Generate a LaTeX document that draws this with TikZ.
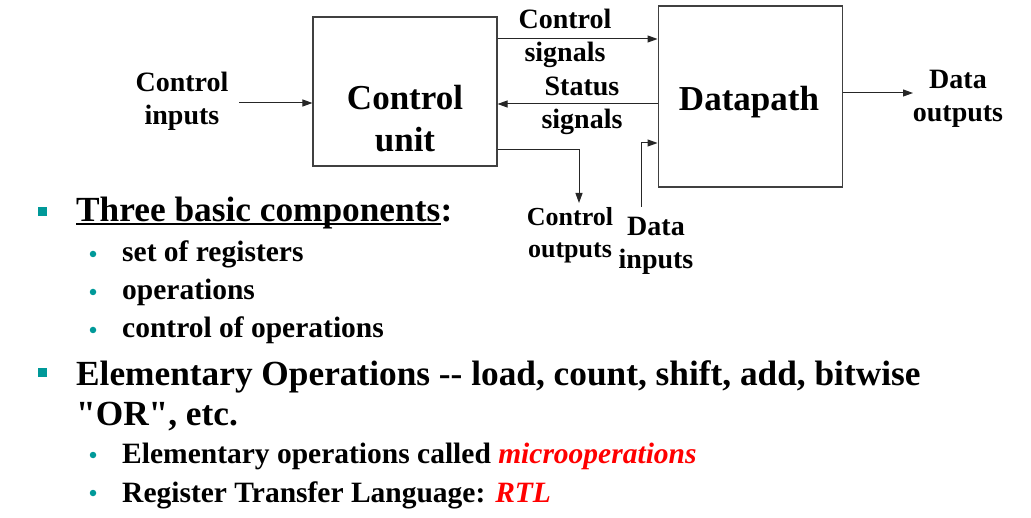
\documentclass[tikz,border=0pt]{standalone}
\usepackage{fontspec}
\setmainfont{Liberation Serif}[Ligatures=TeXOff]
\usetikzlibrary{positioning,arrows.meta}
\definecolor{bullteal}{RGB}{0,153,153}

\begin{document}
\begin{tikzpicture}[x=1pt, y=-1pt,
  blk/.style={draw=black!75, line width=1.1pt, minimum width=184pt, inner sep=0pt},
  big/.style={font=\fontsize{35}{42}\selectfont\bfseries, align=center, inner sep=0pt},
  lbl/.style={font=\fontsize{28}{33}\selectfont\bfseries, align=center, inner sep=0pt},
  arr/.style={-{Triangle[length=10pt,width=7pt]}, line width=1pt, black!85},
  sqbul/.style={fill=bullteal, minimum size=9pt, inner sep=0pt},
  dotbul/.style={circle, fill=bullteal, minimum size=6.5pt, inner sep=0pt},
  mainitem/.style={font=\fontsize{35.3}{40}\selectfont\bfseries, anchor=base west, inner sep=0pt},
  subitem/.style={font=\fontsize{29.5}{36}\selectfont\bfseries, anchor=base west, inner sep=0pt}
]
\useasboundingbox (0,0) rectangle (1031,518);

% blocks
\node[blk, minimum height=149pt]                           (CU) at (405,91.5) {};
\node[blk, minimum height=181pt, right=160pt of CU, yshift=-5pt] (DP) {};
\node[big] (CUtxt) at (405,119) {Control\\unit};
\node[big] (DPtxt) at (749,102) {Datapath};

% signal labels
\node[lbl] (cin)  at (182,101) {Control\\inputs};
\node[lbl] (csig) at (565,38)  {Control\\signals};
\node[lbl] (ssig) at (582,106) {Status\\signals};
\node[lbl] (dout) at (958,99)  {Data\\outputs};
\node[lbl, font=\fontsize{26}{32}\selectfont\bfseries] (cout) at (570,235) {Control\\outputs};
\node[lbl] (din)  at (656,246) {Data\\inputs};

\coordinate (ci0) at (239,103);
\coordinate (co1) at (579,203);
\coordinate (di0) at (641,207);
\coordinate (do1) at (913,93);

\draw[arr] (ci0) -- (ci0 -| CU.west);
\draw[arr] (CU.east |- 0,39) -- (DP.west |- 0,39);
\draw[arr] (DP.west |- 0,104) -- (CU.east |- 0,104);
\draw[arr] (CU.east |- 0,150) -| (co1);
\draw[arr] (di0) |- (DP.west |- 0,143);
\draw[arr] (DP.east |- 0,93) -- (do1);

% bullet list
\node[sqbul] (b1) at (42.5,211.5) {};
\node[mainitem] (t1) at (76,222) {Three basic components};
\node[mainitem] (t1c) at (t1.base east) {:};
\draw[line width=1.6pt] ([yshift=-2pt]t1.base west) -- ([yshift=-2pt]t1.base east);
\foreach \y/\txt [count=\i] in {262/set of registers, 300/operations, 338/control of operations}{
  \node[dotbul] (d\i) at (93,\y-8) {};
  \node[subitem] (s\i) at (122,\y) {\txt};
}

\node[sqbul] (b2) at (42.5,372.5) {};
\node[mainitem] (t2) at (76,386) {Elementary Operations -- load, count, shift, add, bitwise};
\node[mainitem] (t3) at (76,425) {"OR", etc.};
\node[dotbul] (d4) at (93,455) {};
\node[subitem] (s4) at (122,464) {Elementary operations called \textcolor{red}{\itshape microoperations}};
\node[dotbul] (d5) at (93,493) {};
\node[subitem] (s5) at (122,502) {Register Transfer Language: \textcolor{red}{\itshape RTL}};

\end{tikzpicture}
\end{document}
